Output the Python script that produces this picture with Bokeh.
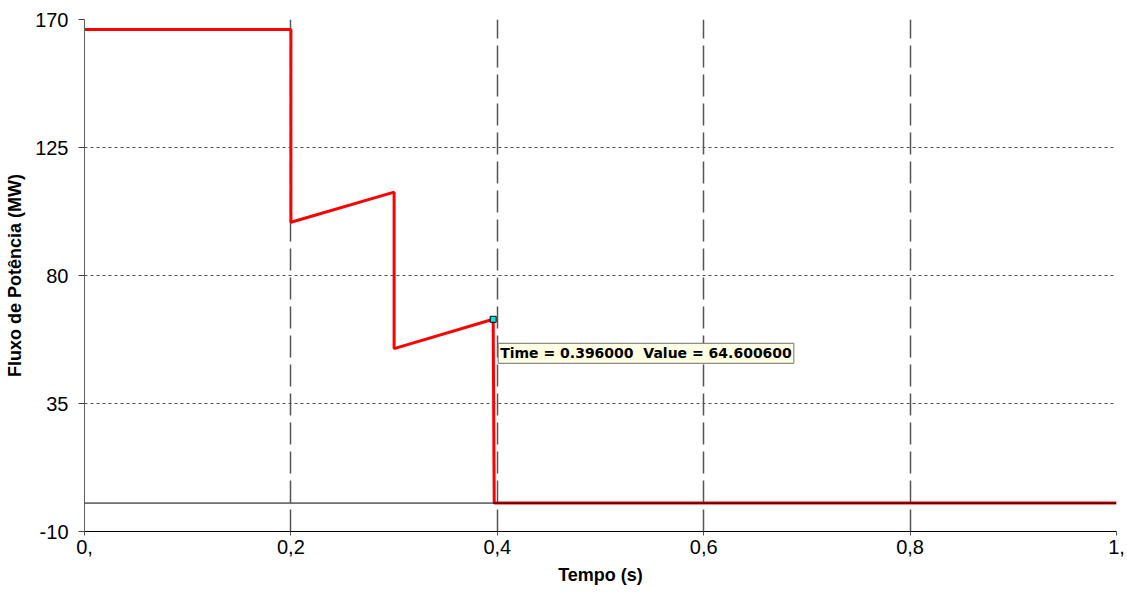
from bokeh.plotting import figure
from bokeh.models import FixedTicker, Span, Label, Range1d
from bokeh.embed import file_html
from bokeh.resources import INLINE

# Data
time_s = [0.0, 0.2, 0.2, 0.3, 0.3, 0.396, 0.397, 1.0]
power_mw = [166.5, 166.5, 98.7, 109.3, 54.3, 64.6, 0.0, 0.0]
x_ticks = [0.0, 0.2, 0.4, 0.6, 0.8, 1.0]
x_tick_labels = ["0,", "0,2", "0,4", "0,6", "0,8", "1,"]
y_ticks = [-10, 35, 80, 125, 170]
y_tick_labels = ["-10", "35", "80", "125", "170"]
cursor_time = 0.396
cursor_value = 64.6006
cursor_text = "Time = 0.396000\u00a0\u00a0Value = 64.600600"

FONT = "Liberation Sans"

p = figure(width=1125, height=595, output_backend="svg", toolbar_location=None,
           x_range=Range1d(0, 1), y_range=Range1d(-10, 170),
           min_border_left=84, min_border_right=9, min_border_top=19, min_border_bottom=64)
p.outline_line_color = None
p.background_fill_color = "white"

p.xaxis.ticker = FixedTicker(ticks=x_ticks)
p.xaxis.major_label_overrides = {t: l for t, l in zip(x_ticks, x_tick_labels)}
p.yaxis.ticker = FixedTicker(ticks=y_ticks)
p.yaxis.major_label_overrides = {t: l for t, l in zip(y_ticks, y_tick_labels)}

for ax in (p.xaxis[0], p.yaxis[0]):
    ax.major_label_text_font = FONT
    ax.major_label_text_font_size = "20px"
    ax.major_label_text_color = "black"
    ax.axis_label_text_font = FONT
    ax.axis_label_text_font_style = "bold"
    ax.axis_label_text_font_size = "18px"
    ax.axis_label_text_color = "black"
    ax.minor_tick_line_color = None
    ax.major_tick_in = 0

p.xaxis.axis_label = "Tempo (s)"
p.yaxis.axis_label = "Fluxo de Potência (MW)"
p.xaxis.axis_line_color = "black"
p.xaxis.major_tick_line_color = "#555555"
p.xaxis.major_tick_out = 4
p.xaxis.major_label_standoff = 4
p.xaxis.axis_label_standoff = 8
p.yaxis.axis_line_color = "#606060"
p.yaxis.major_tick_line_color = "#404040"
p.yaxis.major_tick_out = 6
p.yaxis.major_label_standoff = 10
p.yaxis.axis_label_standoff = 7

p.xgrid.grid_line_color = "#555555"
p.xgrid.grid_line_dash = "22 7"
p.xgrid.grid_line_width = 1.5
p.ygrid.grid_line_color = "#555555"
p.ygrid.grid_line_dash = "3 3"
p.ygrid.grid_line_width = 1

p.add_layout(Span(location=0, dimension="width", line_color="black", line_width=1))

p.line(time_s, power_mw, line_color="#FF0000", line_width=3)

p.scatter([cursor_time], [cursor_value], marker="square", size=6,
          fill_color="#00E5EE", line_color="black", line_width=1)

p.add_layout(Label(x=cursor_time, y=cursor_value, x_offset=5, y_offset=-24,
                   text=cursor_text, text_font="DejaVu Sans", text_font_style="bold",
                   text_font_size="14px", text_color="black",
                   text_align="left", text_baseline="top",
                   background_fill_color="#FFFFE1", border_line_color="#707070",
                   border_line_width=1, padding=2))

open("out.html", "w").write(file_html(p, INLINE))
